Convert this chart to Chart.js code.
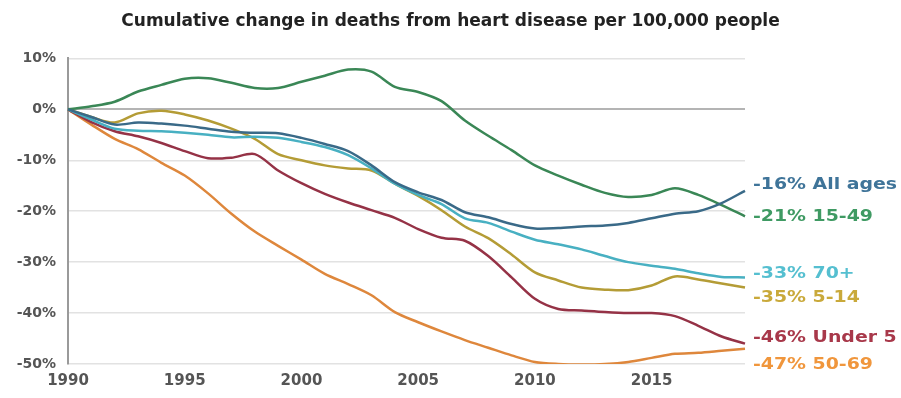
<!DOCTYPE html>
<html>
<head>
<meta charset="utf-8">
<title>Heart disease deaths</title>
<script src="https://cdn.jsdelivr.net/npm/chart.js@4.4.0/dist/chart.umd.min.js"></script>
<style>
    html, body { margin: 0; padding: 0; background: #fff; }
    #wrap { width: 901px; height: 398px; position: relative; }
</style>
</head>
<body>
<div id="wrap"><canvas id="heartChart"></canvas></div>
<script>
// cumulative % change since 1990, per age group
const years = ['1990', '1991', '1992', '1993', '1994', '1995', '1996', '1997', '1998', '1999',
               '2000', '2001', '2002', '2003', '2004', '2005', '2006', '2007', '2008', '2009',
               '2010', '2011', '2012', '2013', '2014', '2015', '2016', '2017', '2018', '2019'];

const allAges = [0, -1.5, -3.0, -2.6, -2.8, -3.2, -3.8, -4.4, -4.6, -4.7,
                 -5.6, -6.8, -8.2, -11.0, -14.3, -16.3, -17.8, -20.2, -21.2, -22.5,
                 -23.4, -23.3, -23.0, -22.8, -22.3, -21.4, -20.5, -20.0, -18.4, -16];

const age15to49 = [0, 0.6, 1.5, 3.5, 4.8, 6.0, 6.1, 5.2, 4.2, 4.2,
                   5.4, 6.6, 7.8, 7.4, 4.4, 3.4, 1.6, -2.2, -5.2, -8.0,
                   -11.0, -13.0, -14.8, -16.4, -17.2, -16.8, -15.5, -16.8, -18.8, -21];

const age70plus = [0, -2.0, -3.8, -4.2, -4.3, -4.6, -5.0, -5.5, -5.4, -5.6,
                   -6.4, -7.4, -9.0, -11.6, -14.6, -16.8, -18.6, -21.4, -22.3, -24.0,
                   -25.6, -26.5, -27.5, -28.8, -30.0, -30.7, -31.3, -32.2, -32.9, -33];

const age5to14 = [0, -1.5, -2.6, -0.8, -0.3, -1.0, -2.2, -3.8, -5.8, -8.8,
                  -10.0, -11.0, -11.6, -12.0, -14.6, -17.0, -19.8, -23.0, -25.3, -28.5,
                  -32.0, -33.6, -35.0, -35.4, -35.5, -34.6, -32.8, -33.4, -34.2, -35];

const under5 = [0, -2.5, -4.3, -5.3, -6.6, -8.2, -9.6, -9.5, -8.8, -12.0,
                -14.5, -16.6, -18.3, -19.8, -21.3, -23.5, -25.2, -25.8, -28.8, -33.0,
                -37.2, -39.2, -39.5, -39.8, -40.0, -40.0, -40.6, -42.5, -44.6, -46];

const age50to69 = [0, -3.0, -5.8, -7.8, -10.5, -13.0, -16.5, -20.5, -24.0, -26.8,
                   -29.5, -32.3, -34.3, -36.5, -39.8, -41.8, -43.6, -45.3, -46.8, -48.3,
                   -49.6, -50.0, -50.1, -50.0, -49.6, -48.8, -48.0, -47.8, -47.4, -47];

const groupNames = ['All ages', '15-49', '70+', '5-14', 'Under 5', '50-69'];
const groupData = [allAges, age15to49, age70plus, age5to14, under5, age50to69];
const lineColors = ['#3a6a88', '#3a8756', '#48b0c2', '#b49c36', '#953246', '#de873c'];
const labelColors = ['#3f7499', '#3f9a63', '#55bfd0', '#c9a93a', '#a8384a', '#f0963c'];

const yTicks = [10, 0, -10, -20, -30, -40, -50];

const FONT = '"DejaVu Sans", "Liberation Sans", Arial, sans-serif';

// writes "-16% All ages" etc. just past the end of each line
const endLabels = {
    id: 'endLabels',
    afterDatasetsDraw(chart, args, opts) {
        const ctx = chart.ctx;
        const yScale = chart.scales.y;
        const x = chart.chartArea.right + opts.gap;
        ctx.save();
        ctx.font = `bold ${opts.size}px ${FONT}`;
        ctx.textBaseline = 'middle';
        ctx.textAlign = 'left';
        chart.data.datasets.forEach((ds, i) => {
            const last = ds.data[ds.data.length - 1];
            const y = yScale.getPixelForValue(last) + (opts.nudge[i] || 0);
            ctx.save();
            ctx.translate(x, y);
            ctx.scale(opts.stretch, 1);
            ctx.fillStyle = labelColors[i];
            ctx.fillText(`${Math.round(last)}% ${ds.label}`, 0, 0);
            ctx.restore();
        });
        ctx.restore();
    }
};

const datasets = groupNames.map((name, i) => ({
    label: name,
    data: groupData[i],
    borderColor: lineColors[i],
    backgroundColor: lineColors[i],
    borderWidth: 2.5,
    pointRadius: 0,
    tension: 0.3,
    fill: false
}));

const ctx = document.getElementById('heartChart').getContext('2d');
new Chart(ctx, {
    type: 'line',
    data: { labels: years, datasets: datasets },
    plugins: [endLabels],
    options: {
        responsive: true,
        maintainAspectRatio: false,
        animation: false,
        layout: { padding: { left: 0, right: 0, top: 6, bottom: 0 } },
        plugins: {
            legend: { display: false },
            tooltip: { enabled: false },
            title: {
                display: true,
                text: 'Cumulative change in deaths from heart disease per 100,000 people',
                color: '#222',
                font: { family: FONT, size: 17, weight: 'bold' },
                padding: { top: 5, bottom: 27 }
            },
            endLabels: {
                gap: 8,
                size: 16,
                stretch: 1.18,
                nudge: [-6, 1, -4, 10, -6, 16]
            }
        },
        scales: {
            x: {
                offset: false,
                grid: { display: false, drawTicks: false },
                border: { display: false },
                ticks: {
                    autoSkip: false,
                    maxRotation: 0,
                    padding: 8,
                    color: '#555',
                    font: { family: FONT, size: 15, weight: 'bold' },
                    callback: function (val, idx) {
                        const yr = years[idx];
                        return Number(yr) % 5 === 0 ? yr : '';
                    }
                }
            },
            y: {
                min: -50,
                max: 10,
                afterFit: (scale) => { scale.width = 68; },
                afterBuildTicks: (scale) => { scale.ticks = yTicks.map(v => ({ value: v })); },
                grid: {
                    drawTicks: false,
                    color: (c) => c.tick && c.tick.value === 0 ? '#b4b4b4' : '#e2e2e2',
                    lineWidth: (c) => c.tick && c.tick.value === 0 ? 2 : 1.5
                },
                border: { display: true, color: '#9a9a9a', width: 2 },
                ticks: {
                    padding: 12,
                    color: '#555',
                    font: { family: FONT, size: 14, weight: 'bold' },
                    callback: (v) => v + '%'
                }
            },
            // empty right-hand axis that keeps room for the end labels
            yRight: {
                position: 'right',
                min: -50,
                max: 10,
                afterFit: (scale) => { scale.width = 156; },
                grid: { display: false, drawTicks: false },
                border: { display: false },
                ticks: { display: false }
            }
        }
    }
});
</script>
</body>
</html>
